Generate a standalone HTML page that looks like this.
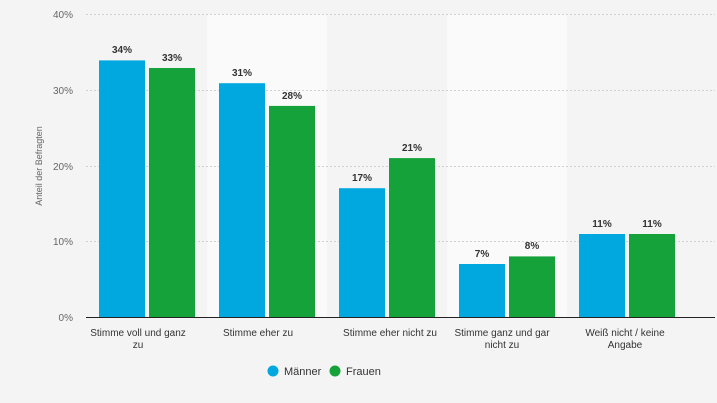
<!DOCTYPE html>
<html><head><meta charset="utf-8"><style>
html,body{margin:0;padding:0;background:#f4f4f4;}
svg{display:block;font-family:"Liberation Sans",Arial,sans-serif;}
</style></head><body>
<svg width="717" height="403" viewBox="0 0 717 403">
<rect width="717" height="403" fill="#f4f4f4"/>
<rect x="207" y="14" width="120" height="303" fill="#fafafa"/>
<rect x="447" y="14" width="120" height="303" fill="#fafafa"/>
<g stroke="#d0d0d0" stroke-width="1" stroke-dasharray="2,2">
<line x1="86" x2="715" y1="14.5" y2="14.5"/>
<line x1="86" x2="715" y1="90.5" y2="90.5"/>
<line x1="86" x2="715" y1="166.5" y2="166.5"/>
<line x1="86" x2="715" y1="241.5" y2="241.5"/>
</g>
<g font-size="10" fill="#666" text-anchor="end">
<text x="73" y="18">40%</text>
<text x="73" y="94">30%</text>
<text x="73" y="170">20%</text>
<text x="73" y="245">10%</text>
<text x="73" y="321">0%</text>
</g>
<text transform="translate(42,166) rotate(-90)" font-size="9" fill="#666" text-anchor="middle">Anteil der Befragten</text>
<g>
<rect x="99" y="60.4" width="46" height="256.6" fill="#00a8df"/>
<rect x="149" y="68" width="46" height="249" fill="#16a23a"/>
<rect x="219" y="83.2" width="46" height="233.8" fill="#00a8df"/>
<rect x="269" y="105.9" width="46" height="211.1" fill="#16a23a"/>
<rect x="339" y="188.2" width="46" height="128.8" fill="#00a8df"/>
<rect x="389" y="158.1" width="46" height="158.9" fill="#16a23a"/>
<rect x="459" y="264" width="46" height="53" fill="#00a8df"/>
<rect x="509" y="256.4" width="46" height="60.6" fill="#16a23a"/>
<rect x="579" y="234" width="46" height="83" fill="#00a8df"/>
<rect x="629" y="234" width="46" height="83" fill="#16a23a"/>
</g>
<g font-size="10" font-weight="bold" fill="#333" text-anchor="middle">
<text x="122" y="53">34%</text><text x="172" y="61">33%</text>
<text x="242" y="76">31%</text><text x="292" y="99">28%</text>
<text x="362" y="181">17%</text><text x="412" y="151">21%</text>
<text x="482" y="257">7%</text><text x="532" y="249">8%</text>
<text x="602" y="227">11%</text><text x="652" y="227">11%</text>
</g>
<line x1="86" x2="715" y1="317.5" y2="317.5" stroke="#222" stroke-width="1"/>
<g font-size="10" fill="#333" text-anchor="middle">
<text x="138" y="336">Stimme voll und ganz</text><text x="138" y="348">zu</text>
<text x="258" y="336">Stimme eher zu</text>
<text x="390" y="336">Stimme eher nicht zu</text>
<text x="502" y="336">Stimme ganz und gar</text><text x="502" y="348">nicht zu</text>
<text x="625" y="336">Weiß nicht / keine</text><text x="625" y="348">Angabe</text>
</g>
<circle cx="273" cy="371" r="5.5" fill="#00a8df"/>
<text x="284" y="375" font-size="11" fill="#333">Männer</text>
<circle cx="335" cy="371" r="5.5" fill="#16a23a"/>
<text x="346" y="375" font-size="11" fill="#333">Frauen</text>
</svg>
</body></html>
